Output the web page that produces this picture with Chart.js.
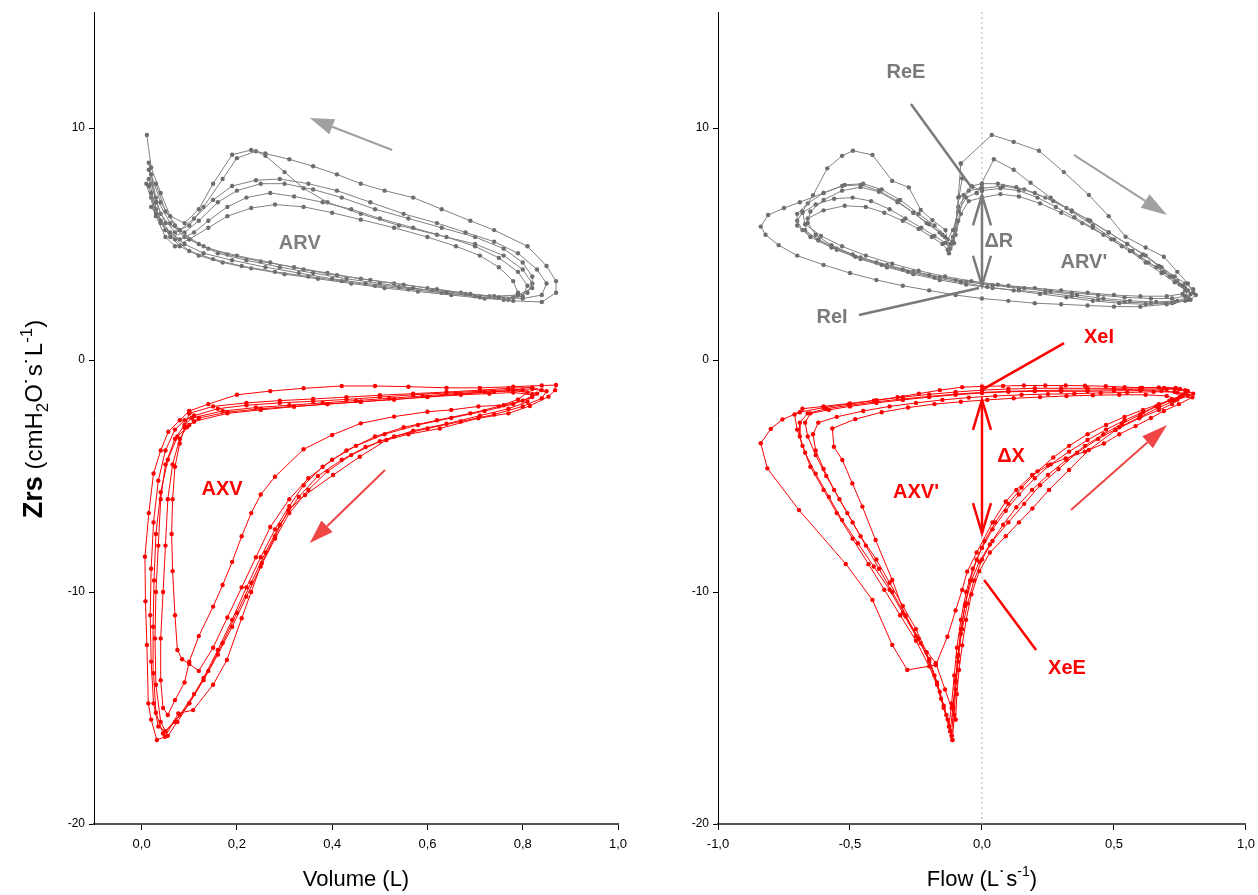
<!DOCTYPE html>
<html>
<head>
<meta charset="UTF-8">
<title>Zrs loops</title>
<script src="https://cdn.jsdelivr.net/npm/chart.js"></script>
<style>
  html, body { margin: 0; background: #fff; overflow: hidden; }
  .panel { position: absolute; top: 0; height: 895px; }
  #left { left: 0; width: 650px; }
  #right { left: 650px; width: 612px; }
</style>
</head>
<body>
<div class="panel" id="left"><canvas id="volChart"></canvas></div>
<div class="panel" id="right"><canvas id="flowChart"></canvas></div>
<script>
// tick values
const volumeTicks = [0, 0.2, 0.4, 0.6, 0.8, 1.0];
const flowTicks = [-1, -0.5, 0, 0.5, 1];
const zrsTicks = [-20, -10, 0, 10];

// resistance vs volume, one array per breath [volume L, R]
const arvLoops = [
  [[0.03,7.6],[0.05,6.4],[0.08,5.6],[0.12,5.0],[0.16,4.6],[0.22,4.3],[0.29,4.0],[0.36,3.75],[0.43,3.5],[0.50,3.3],[0.57,3.1],[0.64,2.9],[0.71,2.7],[0.78,2.55],[0.84,2.5],[0.87,2.9],[0.87,3.4],[0.85,4.05],[0.81,4.9],[0.74,5.6],[0.69,6.0],[0.63,6.5],[0.57,7.0],[0.51,7.3],[0.46,7.6],[0.41,8.0],[0.36,8.35],[0.31,8.65],[0.26,8.9],[0.23,9.05],[0.19,8.85],[0.15,7.6],[0.12,6.5],[0.09,5.9],[0.06,6.2],[0.04,7.2],[0.02,8.3],[0.011,9.7]],
  [[0.02,8.0],[0.04,6.8],[0.07,5.8],[0.10,5.2],[0.14,4.8],[0.20,4.5],[0.27,4.2],[0.34,3.9],[0.41,3.65],[0.48,3.45],[0.55,3.25],[0.62,3.05],[0.69,2.85],[0.75,2.7],[0.80,2.65],[0.84,2.8],[0.85,3.3],[0.83,3.9],[0.79,4.6],[0.74,5.1],[0.68,5.5],[0.62,5.9],[0.55,6.3],[0.48,6.8],[0.41,7.3],[0.35,7.6],[0.29,7.8],[0.24,7.75],[0.19,7.5],[0.15,6.9],[0.11,6.1],[0.08,5.6],[0.05,5.9],[0.03,6.8],[0.015,8.2]],
  [[0.015,7.5],[0.03,6.3],[0.06,5.5],[0.09,5.0],[0.13,4.6],[0.19,4.3],[0.26,4.0],[0.33,3.75],[0.40,3.5],[0.47,3.3],[0.54,3.15],[0.61,3.0],[0.68,2.85],[0.74,2.75],[0.79,2.8],[0.82,3.1],[0.82,3.6],[0.80,4.2],[0.76,4.8],[0.70,5.3],[0.63,5.7],[0.56,6.1],[0.49,6.5],[0.42,7.0],[0.36,7.35],[0.30,7.6],[0.25,7.6],[0.20,7.3],[0.16,6.8],[0.12,6.0],[0.09,5.5],[0.06,5.3],[0.04,6.0],[0.02,7.2]],
  [[0.02,7.0],[0.04,5.9],[0.07,5.2],[0.10,4.7],[0.15,4.35],[0.21,4.05],[0.28,3.8],[0.35,3.6],[0.42,3.4],[0.49,3.2],[0.56,3.05],[0.63,2.9],[0.70,2.75],[0.76,2.6],[0.80,2.75],[0.81,3.2],[0.79,3.8],[0.75,4.4],[0.70,4.9],[0.64,5.3],[0.57,5.7],[0.50,6.1],[0.44,6.5],[0.38,6.8],[0.32,7.05],[0.27,7.2],[0.22,7.0],[0.18,6.6],[0.14,6.0],[0.11,5.5],[0.08,5.2],[0.05,5.6],[0.03,6.5],[0.015,7.8]],
  [[0.02,6.6],[0.05,5.6],[0.08,4.9],[0.12,4.5],[0.17,4.2],[0.23,3.95],[0.30,3.7],[0.37,3.5],[0.44,3.3],[0.51,3.1],[0.58,2.95],[0.65,2.8],[0.72,2.65],[0.77,2.6],[0.79,2.9],[0.78,3.4],[0.75,4.0],[0.71,4.5],[0.66,4.9],[0.60,5.3],[0.53,5.7],[0.46,6.05],[0.40,6.35],[0.34,6.6],[0.28,6.7],[0.23,6.55],[0.18,6.2],[0.14,5.7],[0.10,5.2],[0.07,4.9],[0.05,5.3],[0.03,6.2],[0.01,7.6]],
  [[0.015,8.5],[0.03,7.0],[0.06,5.9],[0.09,5.3],[0.13,4.9],[0.18,4.55],[0.25,4.25],[0.32,4.0],[0.39,3.75],[0.46,3.5],[0.53,3.3],[0.60,3.1],[0.67,2.9],[0.73,2.75],[0.78,2.7],[0.81,2.9],[0.82,3.3],[0.80,3.9],[0.76,4.5],[0.70,5.0],[0.62,5.4],[0.54,5.8],[0.46,6.3],[0.39,6.8],[0.34,7.4],[0.30,8.1],[0.26,8.8],[0.24,9.0],[0.20,8.7],[0.17,7.8],[0.13,6.6],[0.10,5.8],[0.07,5.5],[0.04,6.3],[0.02,7.6]]
];

// reactance vs volume [volume L, X]
const axvLoops = [
  [[0.10,-2.2],[0.14,-1.9],[0.20,-1.5],[0.27,-1.34],[0.34,-1.22],[0.42,-1.12],[0.49,-1.12],[0.56,-1.15],[0.64,-1.2],[0.71,-1.2],[0.78,-1.15],[0.84,-1.1],[0.87,-1.08],[0.868,-1.3],[0.854,-1.58],[0.815,-1.98],[0.77,-2.3],[0.707,-2.51],[0.626,-2.95],[0.56,-3.2],[0.514,-3.45],[0.458,-4.17],[0.402,-4.96],[0.343,-5.82],[0.308,-6.47],[0.28,-7.6],[0.252,-8.76],[0.23,-10.0],[0.21,-11.13],[0.179,-12.93],[0.15,-14.0],[0.108,-15.09],[0.077,-15.23],[0.049,-16.24],[0.032,-16.38],[0.02,-15.5],[0.014,-14.8],[0.011,-12.28],[0.008,-10.4],[0.007,-8.48],[0.015,-6.6],[0.025,-4.89],[0.04,-3.9],[0.056,-3.09],[0.08,-2.6],[0.10,-2.2]],
  [[0.11,-2.4],[0.16,-2.1],[0.22,-1.95],[0.29,-1.85],[0.36,-1.78],[0.43,-1.7],[0.50,-1.6],[0.57,-1.5],[0.64,-1.42],[0.71,-1.35],[0.77,-1.28],[0.82,-1.25],[0.85,-1.35],[0.84,-1.65],[0.80,-2.0],[0.74,-2.35],[0.67,-2.65],[0.60,-2.95],[0.53,-3.3],[0.47,-3.75],[0.42,-4.3],[0.37,-5.0],[0.33,-5.9],[0.29,-7.1],[0.26,-8.3],[0.23,-9.6],[0.20,-10.9],[0.17,-12.2],[0.14,-13.4],[0.11,-14.4],[0.08,-15.3],[0.05,-16.0],[0.035,-15.8],[0.025,-14.8],[0.02,-13.0],[0.018,-11.0],[0.02,-9.0],[0.025,-7.0],[0.035,-5.2],[0.05,-3.9],[0.07,-3.0],[0.09,-2.6],[0.11,-2.4]],
  [[0.12,-2.5],[0.18,-2.25],[0.25,-2.1],[0.32,-2.0],[0.39,-1.9],[0.46,-1.8],[0.53,-1.7],[0.60,-1.6],[0.67,-1.5],[0.73,-1.45],[0.78,-1.4],[0.82,-1.5],[0.81,-1.8],[0.77,-2.1],[0.71,-2.4],[0.64,-2.75],[0.57,-3.05],[0.50,-3.5],[0.44,-4.1],[0.39,-4.8],[0.35,-5.6],[0.31,-6.6],[0.28,-7.7],[0.25,-8.9],[0.22,-10.2],[0.19,-11.5],[0.16,-12.7],[0.13,-13.8],[0.10,-14.8],[0.07,-15.6],[0.045,-16.1],[0.03,-15.2],[0.025,-13.5],[0.024,-11.5],[0.026,-9.5],[0.03,-7.5],[0.04,-5.7],[0.055,-4.3],[0.075,-3.3],[0.10,-2.8],[0.12,-2.5]],
  [[0.11,-2.65],[0.18,-2.3],[0.25,-2.15],[0.32,-2.01],[0.39,-1.9],[0.46,-1.8],[0.53,-1.7],[0.60,-1.58],[0.67,-1.47],[0.74,-1.37],[0.80,-1.3],[0.83,-1.45],[0.80,-1.75],[0.76,-1.95],[0.707,-2.0],[0.65,-2.15],[0.60,-2.23],[0.53,-2.44],[0.46,-2.73],[0.40,-3.23],[0.34,-3.85],[0.28,-5.03],[0.25,-5.8],[0.23,-6.6],[0.21,-7.6],[0.19,-8.7],[0.17,-9.7],[0.15,-10.63],[0.12,-11.9],[0.10,-13.0],[0.09,-13.9],[0.07,-14.66],[0.055,-15.3],[0.045,-15.0],[0.04,-13.8],[0.04,-12.0],[0.045,-10.0],[0.05,-8.0],[0.055,-6.0],[0.065,-4.5],[0.08,-3.4],[0.095,-2.9],[0.11,-2.65]],
  [[0.10,-2.3],[0.15,-2.0],[0.22,-1.85],[0.29,-1.75],[0.36,-1.68],[0.43,-1.6],[0.50,-1.52],[0.57,-1.45],[0.64,-1.38],[0.71,-1.3],[0.77,-1.22],[0.82,-1.18],[0.84,-1.3],[0.82,-1.6],[0.78,-1.9],[0.72,-2.2],[0.65,-2.5],[0.58,-2.8],[0.51,-3.2],[0.45,-3.7],[0.40,-4.3],[0.35,-5.1],[0.31,-6.0],[0.27,-7.2],[0.24,-8.5],[0.21,-9.8],[0.18,-11.1],[0.15,-12.4],[0.12,-13.4],[0.10,-13.1],[0.085,-12.9],[0.075,-12.5],[0.07,-11.0],[0.065,-9.1],[0.063,-7.5],[0.065,-6.0],[0.07,-4.6],[0.08,-3.6],[0.09,-2.9],[0.10,-2.3]],
  [[0.105,-2.5],[0.17,-2.2],[0.24,-2.05],[0.31,-1.95],[0.38,-1.85],[0.45,-1.75],[0.52,-1.65],[0.59,-1.55],[0.66,-1.45],[0.72,-1.38],[0.78,-1.32],[0.81,-1.4],[0.79,-1.7],[0.75,-2.0],[0.69,-2.3],[0.62,-2.6],[0.55,-2.9],[0.49,-3.3],[0.43,-3.9],[0.38,-4.6],[0.34,-5.4],[0.31,-6.3],[0.28,-7.3],[0.25,-8.5],[0.22,-9.8],[0.19,-11.2],[0.16,-12.5],[0.13,-13.7],[0.10,-14.8],[0.075,-15.6],[0.055,-16.2],[0.04,-15.6],[0.03,-14.0],[0.028,-12.0],[0.03,-10.0],[0.035,-8.0],[0.04,-6.0],[0.05,-4.5],[0.07,-3.4],[0.09,-2.8],[0.105,-2.5]]
];

// resistance vs flow [flow L/s, R]
const arvFlowLoops = [
  [[0.0,7.6],[0.06,7.6],[0.13,7.45],[0.2,7.2],[0.27,6.85],[0.34,6.45],[0.41,6.0],[0.48,5.5],[0.55,5.0],[0.61,4.55],[0.67,4.05],[0.72,3.6],[0.76,3.2],[0.79,2.85],[0.77,2.55],[0.7,2.4],[0.6,2.3],[0.5,2.3],[0.4,2.35],[0.3,2.4],[0.2,2.45],[0.1,2.55],[0.0,2.65],[-0.1,2.8],[-0.2,3.0],[-0.3,3.2],[-0.4,3.45],[-0.5,3.75],[-0.6,4.1],[-0.7,4.5],[-0.77,4.95],[-0.82,5.4],[-0.838,5.75],[-0.81,6.25],[-0.75,6.55],[-0.69,6.8],[-0.6,7.2],[-0.52,7.55],[-0.45,7.6],[-0.38,7.35],[-0.31,6.9],[-0.24,6.3],[-0.18,5.8],[-0.14,5.3],[-0.11,5.1],[-0.09,6.0],[-0.07,7.1],[-0.04,7.5],[0.0,7.6]],
  [[0.0,7.3],[0.07,7.4],[0.14,7.3],[0.21,7.0],[0.28,6.6],[0.35,6.15],[0.42,5.7],[0.49,5.2],[0.56,4.7],[0.62,4.2],[0.68,3.75],[0.73,3.35],[0.77,3.0],[0.78,2.7],[0.74,2.55],[0.66,2.5],[0.56,2.55],[0.46,2.65],[0.36,2.8],[0.26,2.95],[0.16,3.1],[0.06,3.25],[-0.04,3.4],[-0.14,3.6],[-0.24,3.85],[-0.34,4.15],[-0.44,4.5],[-0.53,4.9],[-0.61,5.35],[-0.67,5.85],[-0.68,6.4],[-0.64,7.1],[-0.586,8.26],[-0.53,8.8],[-0.489,9.02],[-0.415,8.84],[-0.34,7.72],[-0.277,7.44],[-0.232,6.47],[-0.188,6.03],[-0.138,5.6],[-0.125,4.6],[-0.106,5.03],[-0.087,7.04],[-0.075,7.83],[-0.036,7.47],[0.0,7.3]],
  [[-0.08,8.47],[0.037,9.7],[0.12,9.4],[0.216,9.02],[0.31,8.1],[0.405,7.11],[0.48,6.2],[0.544,5.31],[0.62,4.85],[0.689,4.45],[0.74,3.8],[0.78,3.3],[0.80,2.9],[0.78,2.6],[0.72,2.45],[0.62,2.4],[0.52,2.45],[0.42,2.55],[0.32,2.7],[0.22,2.85],[0.12,3.0],[0.02,3.15],[-0.08,3.35],[-0.18,3.55],[-0.28,3.8],[-0.38,4.1],[-0.48,4.45],[-0.57,4.85],[-0.65,5.3],[-0.7,5.8],[-0.7,6.3],[-0.66,6.75],[-0.6,7.2],[-0.53,7.5],[-0.46,7.55],[-0.39,7.3],[-0.32,6.85],[-0.26,6.35],[-0.2,5.85],[-0.15,5.4],[-0.12,5.0],[-0.1,5.6],[-0.09,7.0],[-0.08,8.47]],
  [[-0.02,7.2],[0.045,8.65],[0.12,8.2],[0.184,7.64],[0.26,7.0],[0.34,6.4],[0.42,5.8],[0.5,5.2],[0.57,4.7],[0.63,4.2],[0.69,3.8],[0.74,3.4],[0.77,3.1],[0.76,2.85],[0.7,2.75],[0.6,2.75],[0.5,2.8],[0.4,2.9],[0.3,3.0],[0.2,3.1],[0.1,3.2],[0.0,3.3],[-0.1,3.45],[-0.2,3.65],[-0.3,3.9],[-0.4,4.2],[-0.49,4.55],[-0.57,4.95],[-0.63,5.4],[-0.66,5.9],[-0.65,6.4],[-0.6,6.9],[-0.53,7.3],[-0.46,7.45],[-0.39,7.25],[-0.32,6.8],[-0.26,6.35],[-0.21,5.9],[-0.16,5.5],[-0.13,5.2],[-0.11,5.6],[-0.09,6.4],[-0.06,7.0],[-0.02,7.2]],
  [[0.0,7.0],[0.07,7.15],[0.14,7.05],[0.22,6.75],[0.3,6.35],[0.38,5.9],[0.46,5.4],[0.53,4.9],[0.6,4.45],[0.66,4.0],[0.71,3.6],[0.75,3.25],[0.78,3.0],[0.77,2.75],[0.72,2.65],[0.64,2.65],[0.54,2.7],[0.44,2.8],[0.34,2.9],[0.24,3.0],[0.14,3.1],[0.04,3.22],[-0.06,3.38],[-0.16,3.58],[-0.26,3.82],[-0.36,4.1],[-0.46,4.42],[-0.55,4.8],[-0.62,5.2],[-0.68,5.6],[-0.7,6.0],[-0.68,6.35],[-0.63,6.7],[-0.56,6.95],[-0.49,7.0],[-0.42,6.85],[-0.35,6.5],[-0.29,6.1],[-0.23,5.7],[-0.18,5.35],[-0.14,5.05],[-0.12,4.8],[-0.1,5.4],[-0.08,6.3],[-0.05,6.85],[0.0,7.0]],
  [[0.0,7.4],[0.08,7.5],[0.16,7.35],[0.24,7.0],[0.32,6.55],[0.4,6.05],[0.48,5.5],[0.55,5.0],[0.62,4.5],[0.68,4.0],[0.73,3.6],[0.77,3.3],[0.8,3.05],[0.81,2.8],[0.79,2.6],[0.73,2.5],[0.64,2.45],[0.54,2.5],[0.44,2.6],[0.34,2.75],[0.24,2.9],[0.14,3.0],[0.04,3.1],[-0.06,3.25],[-0.16,3.45],[-0.26,3.7],[-0.36,4.0],[-0.46,4.35],[-0.55,4.75],[-0.62,5.15],[-0.67,5.6],[-0.66,6.1],[-0.6,6.45],[-0.52,6.65],[-0.44,6.6],[-0.37,6.35],[-0.3,6.0],[-0.24,5.65],[-0.19,5.3],[-0.15,5.0],[-0.13,4.75],[-0.11,5.3],[-0.09,6.6],[-0.05,7.3],[0.0,7.4]]
];

// reactance vs flow [flow L/s, X]
const axvFlowLoops = [
  [[-0.175,-13.15],[-0.131,-11.93],[-0.1,-10.8],[-0.075,-9.91],[-0.056,-9.12],[-0.02,-8.3],[0.04,-7.0],[0.09,-6.1],[0.13,-5.6],[0.19,-4.96],[0.25,-4.55],[0.317,-4.24],[0.39,-3.95],[0.462,-3.6],[0.52,-3.2],[0.582,-2.85],[0.64,-2.5],[0.689,-2.2],[0.746,-1.9],[0.797,-1.61],[0.778,-1.35],[0.734,-1.2],[0.67,-1.18],[0.607,-1.2],[0.54,-1.17],[0.469,-1.13],[0.39,-1.11],[0.317,-1.1],[0.24,-1.1],[0.159,-1.1],[0.08,-1.12],[0.0,-1.14],[-0.075,-1.17],[-0.16,-1.3],[-0.239,-1.45],[-0.32,-1.6],[-0.41,-1.75],[-0.504,-1.9],[-0.6,-2.05],[-0.69,-2.25],[-0.756,-2.56],[-0.8,-2.97],[-0.838,-3.59],[-0.813,-4.67],[-0.693,-6.47],[-0.516,-8.79],[-0.415,-10.34],[-0.34,-12.28],[-0.283,-13.36],[-0.175,-13.15]],
  [[-0.112,-16.38],[-0.105,-15.3],[-0.1,-14.2],[-0.09,-13.0],[-0.08,-11.8],[-0.065,-10.6],[-0.045,-9.5],[-0.02,-8.6],[0.01,-7.8],[0.05,-7.0],[0.1,-6.2],[0.15,-5.5],[0.21,-4.8],[0.27,-4.2],[0.33,-3.7],[0.4,-3.2],[0.47,-2.8],[0.54,-2.45],[0.61,-2.15],[0.67,-1.9],[0.72,-1.7],[0.76,-1.5],[0.78,-1.35],[0.75,-1.25],[0.69,-1.2],[0.6,-1.2],[0.5,-1.22],[0.4,-1.22],[0.3,-1.22],[0.2,-1.22],[0.1,-1.25],[0.0,-1.3],[-0.1,-1.38],[-0.2,-1.48],[-0.3,-1.6],[-0.4,-1.73],[-0.5,-1.87],[-0.6,-2.0],[-0.68,-2.1],[-0.71,-2.35],[-0.7,-3.0],[-0.68,-3.7],[-0.65,-4.6],[-0.6,-5.6],[-0.55,-6.6],[-0.49,-7.7],[-0.43,-8.8],[-0.37,-9.9],[-0.31,-11.0],[-0.25,-12.1],[-0.2,-13.2],[-0.16,-14.3],[-0.135,-15.3],[-0.112,-16.38]],
  [[-0.125,-15.8],[-0.115,-14.8],[-0.105,-13.6],[-0.095,-12.4],[-0.08,-11.2],[-0.06,-10.0],[-0.035,-9.0],[0.0,-8.1],[0.04,-7.3],[0.09,-6.5],[0.14,-5.8],[0.2,-5.1],[0.26,-4.5],[0.33,-3.95],[0.4,-3.45],[0.47,-3.0],[0.54,-2.6],[0.61,-2.25],[0.67,-1.95],[0.72,-1.7],[0.76,-1.55],[0.74,-1.4],[0.68,-1.33],[0.6,-1.32],[0.5,-1.33],[0.4,-1.35],[0.3,-1.35],[0.2,-1.35],[0.1,-1.37],[0.0,-1.42],[-0.1,-1.5],[-0.2,-1.6],[-0.3,-1.72],[-0.4,-1.85],[-0.5,-2.0],[-0.58,-2.15],[-0.65,-2.3],[-0.67,-2.7],[-0.66,-3.3],[-0.63,-4.1],[-0.59,-5.0],[-0.54,-6.0],[-0.49,-7.0],[-0.44,-8.0],[-0.39,-9.0],[-0.34,-10.0],[-0.29,-11.0],[-0.24,-12.0],[-0.2,-13.0],[-0.17,-14.0],[-0.145,-15.0],[-0.125,-15.8]],
  [[-0.1,-15.5],[-0.095,-14.4],[-0.087,-13.36],[-0.075,-12.3],[-0.06,-11.2],[-0.04,-10.1],[-0.01,-9.1],[0.03,-8.3],[0.09,-7.6],[0.14,-7.0],[0.191,-6.4],[0.254,-5.6],[0.33,-4.74],[0.405,-3.88],[0.506,-3.02],[0.595,-2.51],[0.67,-2.16],[0.72,-1.9],[0.74,-1.7],[0.7,-1.55],[0.62,-1.5],[0.52,-1.5],[0.42,-1.52],[0.32,-1.55],[0.22,-1.6],[0.12,-1.65],[0.02,-1.72],[-0.08,-1.8],[-0.18,-1.9],[-0.28,-2.05],[-0.38,-2.25],[-0.48,-2.55],[-0.567,-2.95],[-0.561,-3.74],[-0.529,-4.31],[-0.491,-5.32],[-0.453,-6.32],[-0.403,-7.76],[-0.34,-9.48],[-0.289,-11.06],[-0.232,-12.21],[-0.175,-13.07],[-0.14,-14.2],[-0.115,-15.0],[-0.1,-15.5]],
  [[-0.12,-16.0],[-0.11,-14.9],[-0.1,-13.8],[-0.09,-12.7],[-0.075,-11.6],[-0.055,-10.5],[-0.03,-9.5],[0.0,-8.6],[0.04,-7.8],[0.1,-7.0],[0.16,-6.2],[0.22,-5.4],[0.29,-4.7],[0.36,-4.0],[0.44,-3.4],[0.52,-2.9],[0.6,-2.45],[0.67,-2.05],[0.73,-1.75],[0.78,-1.55],[0.8,-1.45],[0.77,-1.3],[0.7,-1.25],[0.6,-1.26],[0.5,-1.28],[0.4,-1.3],[0.3,-1.3],[0.2,-1.32],[0.1,-1.35],[0.0,-1.4],[-0.1,-1.47],[-0.2,-1.57],[-0.3,-1.68],[-0.4,-1.8],[-0.5,-1.95],[-0.59,-2.1],[-0.66,-2.3],[-0.69,-2.7],[-0.69,-3.3],[-0.67,-4.0],[-0.63,-4.9],[-0.58,-5.9],[-0.53,-6.9],[-0.47,-7.9],[-0.41,-8.9],[-0.35,-9.9],[-0.3,-10.9],[-0.25,-11.9],[-0.2,-12.9],[-0.17,-13.9],[-0.145,-14.9],[-0.12,-16.0]],
  [[-0.115,-16.2],[-0.108,-15.0],[-0.1,-13.9],[-0.092,-12.8],[-0.08,-11.6],[-0.063,-10.5],[-0.04,-9.5],[-0.01,-8.7],[0.03,-7.95],[0.08,-7.1],[0.13,-6.35],[0.19,-5.6],[0.25,-4.95],[0.32,-4.3],[0.39,-3.7],[0.46,-3.2],[0.53,-2.75],[0.6,-2.35],[0.66,-2.0],[0.71,-1.75],[0.75,-1.58],[0.77,-1.45],[0.73,-1.38],[0.65,-1.37],[0.55,-1.4],[0.45,-1.42],[0.35,-1.45],[0.25,-1.47],[0.15,-1.5],[0.05,-1.55],[-0.05,-1.62],[-0.15,-1.72],[-0.25,-1.85],[-0.35,-2.0],[-0.45,-2.2],[-0.55,-2.45],[-0.62,-2.7],[-0.64,-3.2],[-0.63,-3.9],[-0.6,-4.7],[-0.56,-5.6],[-0.51,-6.6],[-0.46,-7.6],[-0.4,-8.6],[-0.35,-9.6],[-0.3,-10.6],[-0.25,-11.6],[-0.21,-12.6],[-0.18,-13.6],[-0.155,-14.6],[-0.13,-15.5],[-0.115,-16.2]]
];

const GRAY_LINE = '#808080';
const GRAY_DOT = '#6e6e6e';
const RED = '#ff0000';
const FONT = '"Liberation Sans", Arial, sans-serif';

function loopSets(loops, line, dot) {
  return loops.map(loop => ({
    data: loop.map(p => ({ x: p[0], y: p[1] })),
    showLine: true,
    tension: 0,
    borderColor: line,
    borderWidth: 1,
    pointRadius: 2.2,
    pointBackgroundColor: dot,
    pointBorderWidth: 0
  }));
}

function makeScales(xMin, xMax, xTicks, yWidth) {
  return {
    x: {
      type: 'linear', min: xMin, max: xMax,
      afterBuildTicks: s => { s.ticks = xTicks.map(v => ({ value: v })); },
      afterFit: s => { s.height = 71; },
      ticks: { color: '#000', font: { family: FONT, size: 13 }, padding: 7, maxRotation: 0, autoSkip: false,
               callback: v => Number(v).toFixed(1).replace('.', ',') },
      grid: { drawOnChartArea: false, drawTicks: true, tickLength: 6, color: '#000' },
      border: { display: true, color: '#555', width: 2 }
    },
    y: {
      type: 'linear', min: -20, max: 15,
      afterBuildTicks: s => { s.ticks = zrsTicks.map(v => ({ value: v })); },
      afterFit: s => { s.width = yWidth; },
      ticks: { color: '#000', font: { family: FONT, size: 12 }, padding: 4 },
      grid: { drawOnChartArea: false, drawTicks: true, tickLength: 5, color: '#000' },
      border: { display: true, color: '#000', width: 1 }
    }
  };
}

// text made of pieces with sub/superscripts, centred on 0,0
function richText(ctx, parts) {
  let w = 0;
  parts.forEach(p => { ctx.font = p.font; p.w = ctx.measureText(p.t).width; w += p.w; });
  let x = -w / 2;
  ctx.textBaseline = 'alphabetic';
  ctx.textAlign = 'left';
  parts.forEach(p => { ctx.font = p.font; ctx.fillText(p.t, x, p.dy || 0); x += p.w; });
}

function filledArrow(ctx, x1, y1, x2, y2, color, len, half) {
  const a = Math.atan2(y2 - y1, x2 - x1);
  const bx = x2 - len * Math.cos(a), by = y2 - len * Math.sin(a);
  ctx.strokeStyle = color; ctx.fillStyle = color; ctx.lineWidth = 2;
  ctx.beginPath(); ctx.moveTo(x1, y1); ctx.lineTo(bx, by); ctx.stroke();
  ctx.beginPath();
  ctx.moveTo(x2, y2);
  ctx.lineTo(bx + half * Math.sin(a), by - half * Math.cos(a));
  ctx.lineTo(bx - half * Math.sin(a), by + half * Math.cos(a));
  ctx.closePath(); ctx.fill();
}

function doubleArrow(ctx, x, y1, y2, color) {
  ctx.strokeStyle = color; ctx.lineWidth = 2.5;
  ctx.beginPath(); ctx.moveTo(x, y1); ctx.lineTo(x, y2); ctx.stroke();
  ctx.beginPath();
  ctx.moveTo(x - 9, y1 + 30); ctx.lineTo(x, y1); ctx.lineTo(x + 9, y1 + 30);
  ctx.moveTo(x - 9, y2 - 30); ctx.lineTo(x, y2); ctx.lineTo(x + 9, y2 - 30);
  ctx.stroke();
}

function pointer(ctx, x1, y1, x2, y2, color) {
  ctx.strokeStyle = color; ctx.lineWidth = 2.5;
  ctx.beginPath(); ctx.moveTo(x1, y1); ctx.lineTo(x2, y2); ctx.stroke();
}

function label(ctx, text, x, y, color) {
  ctx.font = 'bold 20px ' + FONT;
  ctx.fillStyle = color;
  ctx.textAlign = 'center';
  ctx.textBaseline = 'middle';
  ctx.fillText(text, x, y);
}

const volumeNotes = {
  id: 'volumeNotes',
  afterDraw(chart) {
    const { ctx, scales: { x, y } } = chart;
    const px = v => x.getPixelForValue(v), py = v => y.getPixelForValue(v);
    ctx.save();
    filledArrow(ctx, px(0.526), py(9.05), px(0.353), py(10.43), '#a0a0a0', 24, 8);
    filledArrow(ctx, px(0.511), py(-4.74), px(0.353), py(-7.89), '#f04545', 24, 8);
    label(ctx, 'ARV', px(0.332), py(5.04), '#7f7f7f');
    label(ctx, 'AXV', px(0.169), py(-5.6), RED);
    // axis titles
    ctx.fillStyle = '#000';
    ctx.save();
    ctx.translate((x.left + x.right) / 2, 886);
    richText(ctx, [{ t: 'Volume (L)', font: '22px ' + FONT }]);
    ctx.restore();
    ctx.save();
    ctx.translate(42, 419);
    ctx.rotate(-Math.PI / 2);
    richText(ctx, [
      { t: 'Zrs', font: 'bold 27px ' + FONT },
      { t: ' (cmH', font: '24px ' + FONT },
      { t: '2', font: '17px ' + FONT, dy: 6 },
      { t: 'O\u02D9s\u02D9L', font: '24px ' + FONT },
      { t: '-1', font: '17px ' + FONT, dy: -10 },
      { t: ')', font: '24px ' + FONT }
    ]);
    ctx.restore();
    ctx.restore();
  }
};

const flowNotes = {
  id: 'flowNotes',
  afterDraw(chart) {
    const { ctx, scales: { x, y } } = chart;
    const px = v => x.getPixelForValue(v), py = v => y.getPixelForValue(v);
    const gray = '#7a7a7a';
    ctx.save();
    filledArrow(ctx, px(0.348), py(8.84), px(0.701), py(6.25), '#a0a0a0', 26, 8);
    filledArrow(ctx, px(0.337), py(-6.47), px(0.701), py(-2.8), '#f04545', 26, 8);
    pointer(ctx, px(-0.269), py(11.03), px(-0.038), py(7.41), gray);
    pointer(ctx, px(-0.466), py(1.94), px(-0.011), py(3.10), gray);
    doubleArrow(ctx, px(0), py(7.1), py(3.2), gray);
    pointer(ctx, px(0.311), py(0.73), px(0), py(-1.29), RED);
    doubleArrow(ctx, px(0), py(-1.72), py(-7.46), RED);
    pointer(ctx, px(0.008), py(-9.48), px(0.205), py(-12.5), RED);
    label(ctx, 'ReE', px(-0.288), py(12.41), gray);
    label(ctx, 'ReI', px(-0.568), py(1.85), gray);
    label(ctx, '\u0394R', px(0.064), py(5.09), gray);
    label(ctx, "ARV'", px(0.386), py(4.22), gray);
    label(ctx, 'XeI', px(0.443), py(0.95), RED);
    label(ctx, '\u0394X', px(0.11), py(-4.18), RED);
    label(ctx, "AXV'", px(-0.25), py(-5.69), RED);
    label(ctx, 'XeE', px(0.322), py(-13.28), RED);
    ctx.fillStyle = '#000';
    ctx.translate((x.left + x.right) / 2, 886);
    richText(ctx, [
      { t: 'Flow (L\u02D9s', font: '22px ' + FONT },
      { t: '-1', font: '14px ' + FONT, dy: -10 },
      { t: ')', font: '22px ' + FONT }
    ]);
    ctx.restore();
  }
};

const baseOptions = {
  responsive: true,
  maintainAspectRatio: false,
  animation: false,
  plugins: { legend: { display: false }, tooltip: { enabled: false } }
};

new Chart(document.getElementById('volChart'), {
  type: 'scatter',
  data: {
    datasets: loopSets(arvLoops, GRAY_LINE, GRAY_DOT).concat(loopSets(axvLoops, RED, RED))
  },
  options: Object.assign({}, baseOptions, {
    layout: { padding: { top: 12, right: 32, left: 0, bottom: 0 } },
    scales: makeScales(-0.1, 1.0, volumeTicks, 94)
  }),
  plugins: [volumeNotes]
});

new Chart(document.getElementById('flowChart'), {
  type: 'scatter',
  data: {
    datasets: loopSets(arvFlowLoops, GRAY_LINE, GRAY_DOT)
      .concat(loopSets(axvFlowLoops, RED, RED))
      .concat([{
        data: [{ x: 0, y: -20 }, { x: 0, y: 15 }],
        showLine: true, borderColor: '#b0b0b0', borderWidth: 1, borderDash: [2, 3], pointRadius: 0
      }])
  },
  options: Object.assign({}, baseOptions, {
    layout: { padding: { top: 12, right: 0, left: 0, bottom: 0 } },
    scales: makeScales(-1, 1, flowTicks, 68)
  }),
  plugins: [flowNotes]
});
</script>
</body>
</html>
